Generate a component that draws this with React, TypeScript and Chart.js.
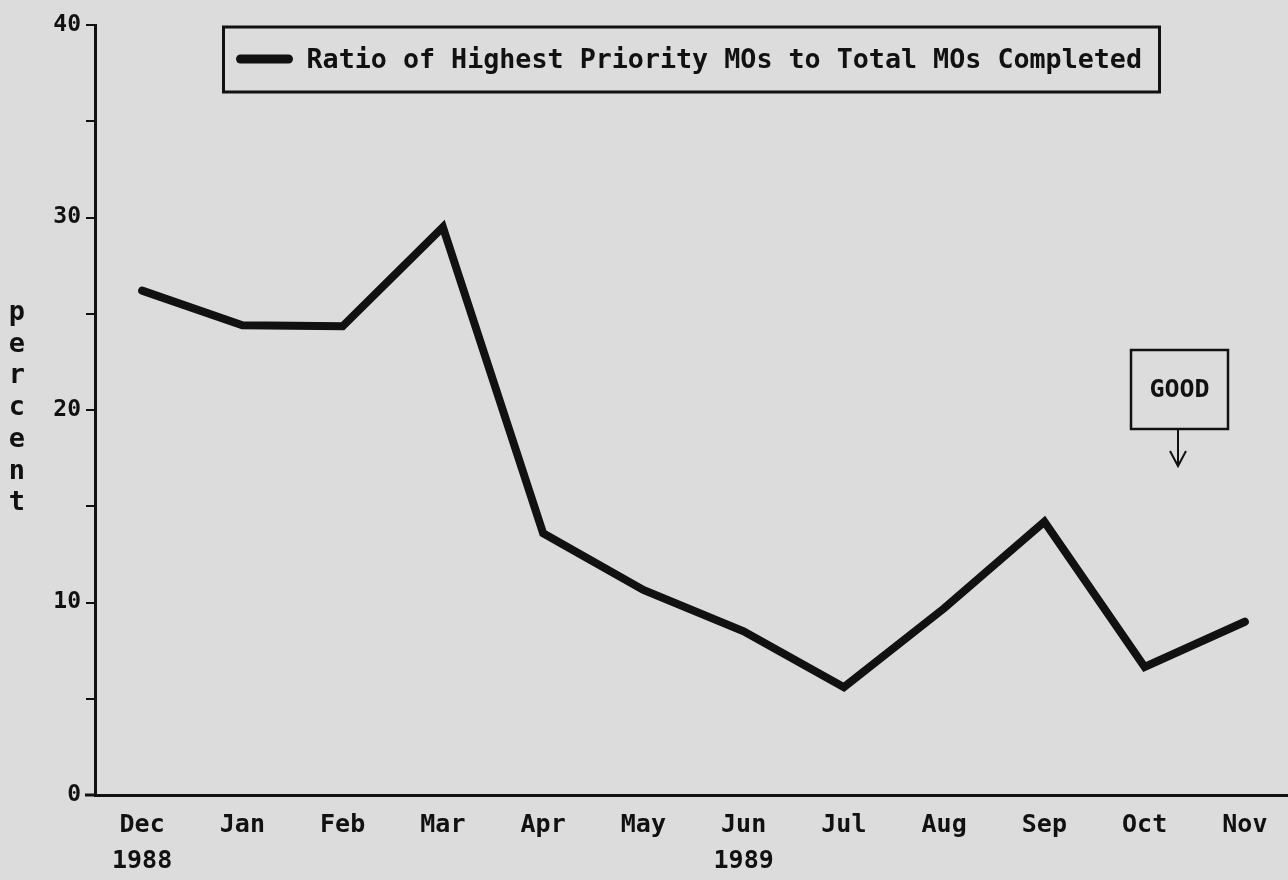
import React, { useEffect, useRef } from 'react';
import { Chart, registerables } from 'chart.js';

Chart.register(...registerables);

const months = ['Dec', 'Jan', 'Feb', 'Mar', 'Apr', 'May', 'Jun', 'Jul', 'Aug', 'Sep', 'Oct', 'Nov'];
const yearLabels = ['1988', '', '', '', '', '', '1989', '', '', '', '', ''];
const ratioValues = [26.2, 24.4, 24.35, 29.5, 13.6, 10.65, 8.5, 5.6, 9.7, 14.2, 6.65, 9.0];
const yLabelEvery = 10;
const seriesLabel = 'Ratio of Highest Priority MOs to Total MOs Completed';
const axisTitle = 'percent';
const noteText = 'GOOD';

const INK = '#111111';
const BG = '#dcdcdc';
const FONT = '"DejaVu Sans Mono", monospace';

const decorPlugin = {
  id: 'decor',
  afterDraw(chart: any) {
    const ctx = chart.ctx as CanvasRenderingContext2D;
    const { left, top, right, bottom } = chart.chartArea;
    ctx.save();
    ctx.strokeStyle = INK;
    ctx.fillStyle = INK;

    // x axis line extends a little left of y axis
    ctx.lineWidth = 3;
    ctx.beginPath();
    ctx.moveTo(left - 10, bottom);
    ctx.lineTo(left, bottom);
    ctx.stroke();

    // vertical stacked y-axis title
    ctx.font = `bold 27px ${FONT}`;
    ctx.textAlign = 'center';
    ctx.textBaseline = 'middle';
    [...axisTitle].forEach((ch, i) => ctx.fillText(ch, 17, 313 + i * 31.7));

    // legend frame
    const cx = (left + right) / 2;
    const lw = 936;
    const lx = cx - lw / 2;
    const ly = top + 2;
    ctx.lineWidth = 3;
    ctx.strokeRect(lx, ly, lw, 65);
    ctx.lineWidth = 9;
    ctx.lineCap = 'round';
    ctx.beginPath();
    ctx.moveTo(lx + 17, ly + 32);
    ctx.lineTo(lx + 65, ly + 32);
    ctx.stroke();
    ctx.lineCap = 'butt';
    ctx.font = `bold 26.7px ${FONT}`;
    ctx.textAlign = 'left';
    ctx.textBaseline = 'middle';
    ctx.fillText(seriesLabel, lx + 83, ly + 34);

    // GOOD note box with arrow
    const gx = 1131, gy = 350, gw = 97, gh = 79;
    ctx.lineWidth = 2.5;
    ctx.strokeRect(gx, gy, gw, gh);
    ctx.font = `bold 25px ${FONT}`;
    ctx.textAlign = 'center';
    ctx.fillText(noteText, gx + gw / 2, gy + 40);
    const ax = gx + 47;
    ctx.lineWidth = 2;
    ctx.beginPath();
    ctx.moveTo(ax, gy + gh);
    ctx.lineTo(ax, gy + gh + 37);
    ctx.moveTo(ax - 8, gy + gh + 22);
    ctx.lineTo(ax, gy + gh + 37);
    ctx.lineTo(ax + 8, gy + gh + 22);
    ctx.stroke();

    ctx.restore();
  },
};

export default function App() {
  const canvasRef = useRef<HTMLCanvasElement | null>(null);

  useEffect(() => {
    const canvas = canvasRef.current;
    if (!canvas) return;
    const chart = new Chart(canvas, {
      type: 'line',
      data: {
        datasets: [
          {
            label: seriesLabel,
            data: ratioValues.map((v, i) => ({ x: i, y: v })),
            borderColor: INK,
            backgroundColor: INK,
            borderWidth: 8,
            pointRadius: 0,
            tension: 0,
            fill: false,
            borderCapStyle: 'round',
            borderJoinStyle: 'miter',
          },
        ],
      },
      options: {
        responsive: false,
        animation: false,
        devicePixelRatio: 1,
        layout: { padding: { top: 25, left: 0, right: 0, bottom: 0 } },
        plugins: {
          legend: { display: false },
          tooltip: { enabled: false },
        },
        scales: {
          x: {
            type: 'linear',
            min: -0.47,
            max: 11.43,
            afterFit: (s: any) => {
              s.height = 85;
            },
            afterBuildTicks: (s: any) => {
              s.ticks = months.map((_, i) => ({ value: i }));
            },
            grid: { display: true, drawOnChartArea: false, drawTicks: false },
            border: { display: true, color: INK, width: 3 },
            ticks: {
              padding: 12,
              autoSkip: false,
              maxRotation: 0,
              color: INK,
              font: { family: FONT, size: 25, weight: 'bold', lineHeight: 1.45 },
              callback: (v: any) => {
                const i = Math.round(Number(v));
                return yearLabels[i] ? [months[i], yearLabels[i]] : months[i];
              },
            },
          },
          y: {
            min: 0,
            max: 40,
            afterFit: (s: any) => {
              s.width = 95;
            },
            ticks: {
              stepSize: 5,
              padding: 5,
              color: INK,
              font: { family: FONT, size: 23, weight: 'bold' },
              callback: (v: any) => (Number(v) % yLabelEvery === 0 ? String(v) : ''),
            },
            grid: {
              display: true,
              drawOnChartArea: false,
              drawTicks: true,
              tickLength: 9,
              color: INK,
              lineWidth: 2,
            },
            border: { display: true, color: INK, width: 3 },
          },
        },
      },
      plugins: [decorPlugin],
    } as any);
    return () => chart.destroy();
  }, []);

  return (
    <div
      style={{
        position: 'fixed',
        left: 0,
        top: 0,
        width: 1288,
        height: 880,
        background: BG,
        overflow: 'hidden',
      }}
    >
      <canvas ref={canvasRef} width={1288} height={880} style={{ display: 'block' }} />
    </div>
  );
}
